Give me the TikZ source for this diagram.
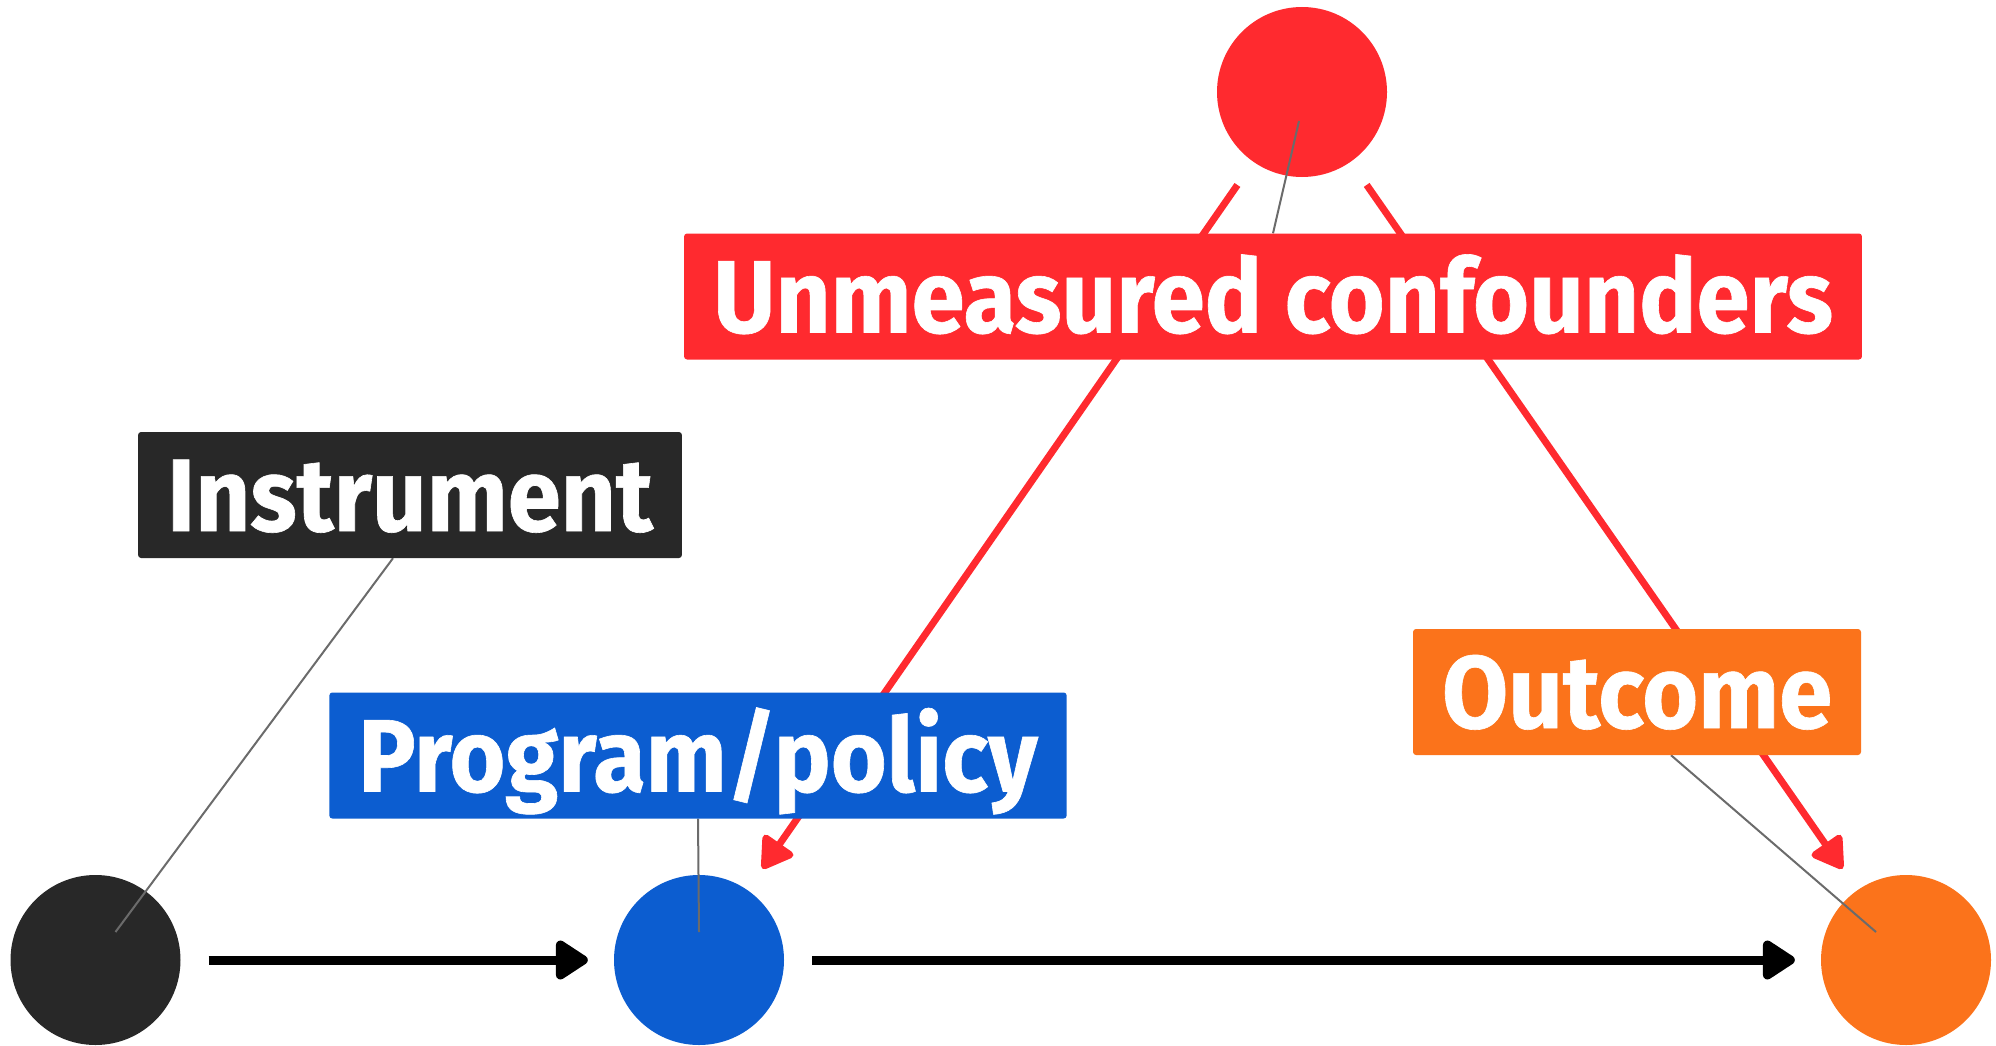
\documentclass[tikz,border=0pt]{standalone}
\usepackage{fontspec}
\setmainfont{Fira Sans}[BoldFeatures={FakeStretch=0.93,FakeBold=0.6}]
\usetikzlibrary{arrows.meta,calc}
\definecolor{confred}{HTML}{FF2A2F}
\definecolor{progblue}{HTML}{0C5DD0}
\definecolor{outorange}{HTML}{FB731B}
\definecolor{instblack}{HTML}{282828}
\definecolor{leadgray}{HTML}{6B6B6B}
\pgfdeclarelayer{dots}
\pgfdeclarelayer{links}
\pgfsetlayers{dots,links,main}
\tikzset{>={Triangle[round,length=36pt,width=44pt]}}
\tikzset{
  dot/.style={circle,fill=#1,draw=none,minimum size=170pt,inner sep=0pt},
  lab/.style={fill=#1,draw=none,rounded corners=3pt,text=white,
    font=\fontsize{103}{110}\selectfont\bfseries,inner xsep=29pt,inner ysep=0pt,
    minimum height=126pt,text height=72pt,text depth=0pt},
  causal/.style={->,line width=9pt,shorten <=28pt,shorten >=26pt},
  confpath/.style={-{Triangle[round,length=34pt,width=40pt]},confred,line width=7pt,
    shorten <=28pt,shorten >=26pt},
  leader/.style={leadgray,line width=2pt}
}

\begin{document}
\begin{tikzpicture}[x=1pt,y=-1pt]
            \useasboundingbox (0,0) rectangle (1996,1046);
            \begin{pgfonlayer}{dots}
            \node[dot=instblack] (inst) at (95.5,960){};
            \node[dot=progblue] (prog) at (699,960){};
            \node[dot=outorange] (out) at (1906,960){};
            \node[dot=confred] (conf) at (1302,92){};
            \end{pgfonlayer}
            \node[lab=confred] (conflab) at (1273,296.5){Unmeasured confounders};
            \node[lab=instblack] (instlab) at (410,495){Instrument};
            \node[lab=progblue] (proglab) at (698,755.5){Program/policy};
            \node[lab=outorange] (outlab) at (1637,692){Outcome};
            \begin{pgfonlayer}{links}
            \draw[causal] (inst) -- (prog);
            \draw[causal] (prog) -- (out);
            \draw[confpath] (conf) -- (prog);
            \draw[confpath] (conf) -- (out);
            \draw[leader] ([xshift=-17pt]instlab.south) -- ($(inst)+(20,-28)$);
            \draw[leader] (proglab.south) -- ($(prog)+(0,-28)$);
            \draw[leader] ([xshift=34pt]outlab.south) -- ($(out)+(-30,-28)$);
            \draw[leader] (conflab.north) -- ($(conf)+(-3,29)$);
            \end{pgfonlayer}
        \end{tikzpicture}
\end{document}
